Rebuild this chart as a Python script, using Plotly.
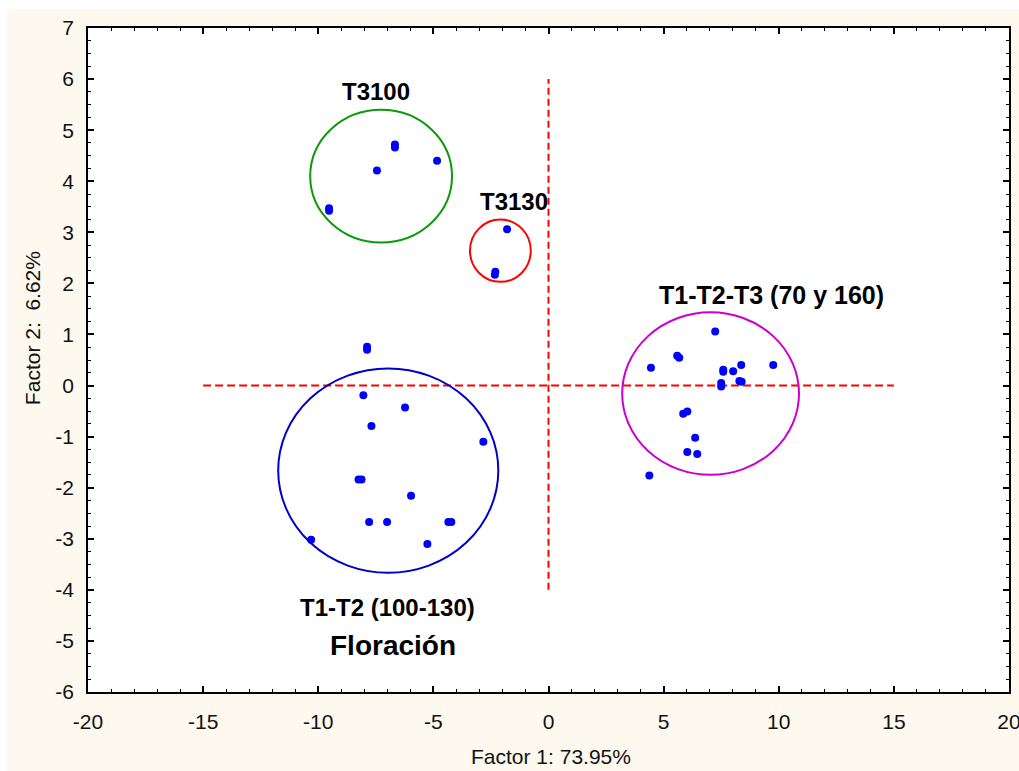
import plotly.graph_objects as go

# Factor scores (Factor 1, Factor 2) for each treatment group
t3100_f1 = [-6.67, -6.67, -4.84, -7.45, -9.53, -9.53]
t3100_f2 = [4.66, 4.72, 4.40, 4.21, 3.42, 3.47]

t3130_f1 = [-1.80, -2.31, -2.33]
t3130_f2 = [3.06, 2.23, 2.17]

t123_f1 = [7.24, 5.59, 5.68, 4.45, 7.59, 7.59, 8.02, 8.37, 9.76, 7.50, 7.50,
           8.29, 8.39, 5.85, 6.03, 6.37, 6.03, 6.46, 4.38]
t123_f2 = [1.06, 0.585, 0.546, 0.35, 0.31, 0.27, 0.28, 0.40, 0.40, 0.05, -0.02,
           0.09, 0.075, -0.55, -0.51, -1.02, -1.30, -1.34, -1.76]

t12_f1 = [-7.88, -7.88, -8.04, -6.23, -7.69, -2.83, -8.25, -8.12, -5.97, -7.79,
          -7.01, -4.35, -4.22, -10.31, -5.26]
t12_f2 = [0.70, 0.76, -0.19, -0.43, -0.79, -1.10, -1.84, -1.84, -2.16, -2.67,
          -2.67, -2.67, -2.67, -3.02, -3.10]

# Group ellipses: centre and semi-axes in data units
ellipse_cx = [-7.27, -2.09, 7.04, -6.96]
ellipse_cy = [4.10, 2.64, -0.157, -1.665]
ellipse_rx = [3.08, 1.32, 3.84, 4.78]
ellipse_ry = [1.30, 0.61, 1.59, 2.00]
ellipse_colors = ["#0a9a0a", "#ff0000", "#cc00cc", "#0000c8"]

# Group labels
label_text = ["T3100", "T3130", "T1-T2-T3 (70 y 160)", "T1-T2 (100-130)", "Floración"]
label_x = [-7.50, -1.51, 9.67, -6.98, -6.77]
label_y = [5.76, 3.61, 1.78, -4.35, -5.08]
label_size = [24, 24, 25, 24, 28]

# Reference axes through the origin
h_ref_x = [-15, 15]
h_ref_y = [0, 0]
v_ref_x = [0, 0]
v_ref_y = [-4, 6]

x_ticks = [-20, -15, -10, -5, 0, 5, 10, 15, 20]
y_ticks = [-6, -5, -4, -3, -2, -1, 0, 1, 2, 3, 4, 5, 6, 7]

FONT = "Arial, Liberation Sans, sans-serif"
CREAM = "#fdf9ef"

fig = go.Figure()

# reference dashed lines
fig.add_trace(go.Scatter(x=h_ref_x, y=h_ref_y, mode="lines",
                         line=dict(color="#ff0000", width=2, dash="8px,4px"),
                         hoverinfo="skip", showlegend=False))
fig.add_trace(go.Scatter(x=v_ref_x, y=v_ref_y, mode="lines",
                         line=dict(color="#ff0000", width=2, dash="7px,4px"),
                         hoverinfo="skip", showlegend=False))

# score points
all_f1 = t3100_f1 + t3130_f1 + t123_f1 + t12_f1
all_f2 = t3100_f2 + t3130_f2 + t123_f2 + t12_f2
fig.add_trace(go.Scatter(x=all_f1, y=all_f2, mode="markers",
                         marker=dict(color="#0000ff", size=8, line=dict(width=0)),
                         showlegend=False))

# ellipses
for cx, cy, rx, ry, col in zip(ellipse_cx, ellipse_cy, ellipse_rx, ellipse_ry, ellipse_colors):
    fig.add_shape(type="circle", xref="x", yref="y",
                  x0=cx - rx, x1=cx + rx, y0=cy - ry, y1=cy + ry,
                  line=dict(color=col, width=2), layer="above")

# labels
for txt, lx, ly, sz in zip(label_text, label_x, label_y, label_size):
    fig.add_annotation(x=lx, y=ly, xref="x", yref="y", text=f"<b>{txt}</b>",
                       showarrow=False, xanchor="center", yanchor="middle",
                       font=dict(family=FONT, size=sz, color="black"))

# axis titles
fig.add_annotation(x=0.5027, y=-0.0964, xref="paper", yref="paper",
                   text="Factor 1: 73.95%", showarrow=False,
                   xanchor="center", yanchor="middle",
                   font=dict(family=FONT, size=21, color="#111111"))
fig.add_annotation(x=-0.0608, y=0.548, xref="paper", yref="paper",
                   text="Factor 2:  6.62%", showarrow=False, textangle=-90,
                   xanchor="center", yanchor="middle",
                   font=dict(family=FONT, size=21, color="#111111"))

# thin white border strips along the top and left page edges
fig.add_shape(type="rect", xref="paper", yref="paper", x0=-0.2, x1=1.2,
              y0=1.0286, y1=1.1, fillcolor="white", line=dict(width=0), layer="below")
fig.add_shape(type="rect", xref="paper", yref="paper", x0=-0.2, x1=-0.088,
              y0=-0.3, y1=1.1, fillcolor="white", line=dict(width=0), layer="below")

axis_common = dict(showgrid=False, zeroline=False, showline=True, linecolor="black",
                   linewidth=1.5, mirror="ticks", ticks="inside", tickcolor="black",
                   ticklen=6, tickwidth=1.5, automargin=False, ticklabeloverflow="allow",
                   tickfont=dict(family=FONT, size=21, color="#111111"))

fig.update_xaxes(range=[-20, 20], tickvals=x_ticks, ticktext=[str(v) for v in x_ticks],
                 minor=dict(dtick=1, ticks="inside", ticklen=3, tickcolor="black", tickwidth=1),
                 ticklabelstandoff=10, **axis_common)
fig.update_yaxes(range=[-6, 7], tickvals=y_ticks, ticktext=[str(v) for v in y_ticks],
                 minor=dict(dtick=0.25, ticks="inside", ticklen=3, tickcolor="black", tickwidth=1),
                 ticklabelstandoff=8, **axis_common)

fig.update_layout(width=1019, height=771,
                  margin=dict(l=88, r=10, t=28, b=79),
                  paper_bgcolor=CREAM, plot_bgcolor="white",
                  showlegend=False)

fig.write_html("out.html")
